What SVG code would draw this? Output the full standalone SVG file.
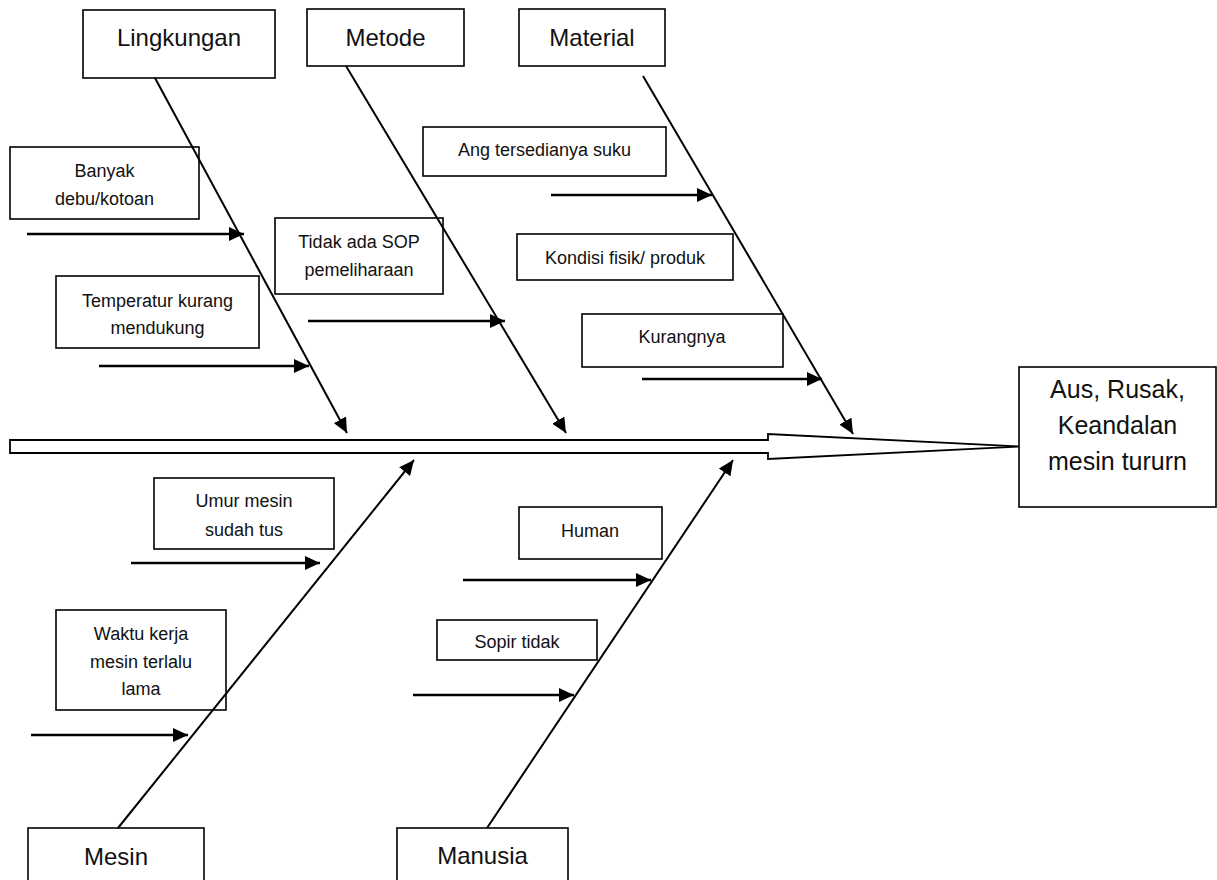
<svg xmlns="http://www.w3.org/2000/svg" width="1217" height="880" viewBox="0 0 1217 880">
<style>
  .box { fill: #ffffff; stroke: #000000; stroke-width: 1.6; }
  .t { font-family: "Liberation Sans", Arial, sans-serif; fill: #111111; text-anchor: middle; }
  .s { font-size: 18px; }
  .c { font-size: 24px; }
  .e { font-size: 25px; }
  .bone { stroke: #000000; stroke-width: 2; fill: none; }
  .arr { stroke: #000000; stroke-width: 2.4; fill: none; marker-end: url(#ah); }
  .spine { fill: #ffffff; stroke: #000000; stroke-width: 1.8; stroke-linejoin: miter; }
</style>
<defs>
  <marker id="ah" markerUnits="userSpaceOnUse" markerWidth="16" markerHeight="14" refX="15" refY="7" orient="auto">
    <path d="M0,0 L15,7 L0,14 z" fill="#000000"/>
  </marker>
</defs>
<rect width="1217" height="880" fill="#ffffff"/>

<g id="lingkungan"><rect class="box" x="83" y="10" width="192" height="68"/><text class="t c" x="179" y="46">Lingkungan</text></g>
<g id="metode"><rect class="box" x="307" y="9" width="157" height="57"/><text class="t c" x="385.5" y="46">Metode</text></g>
<g id="material"><rect class="box" x="519" y="9" width="146" height="57"/><text class="t c" x="592" y="46">Material</text></g>
<g id="mesin"><rect class="box" x="28" y="828" width="176" height="80"/><text class="t c" x="116" y="865">Mesin</text></g>
<g id="manusia"><rect class="box" x="397" y="828" width="171" height="80"/><text class="t c" x="482.5" y="864">Manusia</text></g>
<g id="effect"><rect class="box" x="1019" y="367" width="197" height="140"/><text class="t e" x="1117.5" y="398">Aus, Rusak,</text><text class="t e" x="1117.5" y="434">Keandalan</text><text class="t e" x="1117.5" y="470">mesin tururn</text></g>

<g id="banyak-debu"><rect class="box" x="10" y="147" width="189" height="72"/><text class="t s" x="104.5" y="177">Banyak</text><text class="t s" x="104.5" y="205">debu/kotoan</text></g>
<g id="temperatur"><rect class="box" x="56" y="276" width="203" height="72"/><text class="t s" x="157.5" y="307">Temperatur kurang</text><text class="t s" x="157.5" y="334">mendukung</text></g>
<g id="tidak-ada-sop"><rect class="box" x="275" y="218" width="168" height="76"/><text class="t s" x="359" y="248">Tidak ada SOP</text><text class="t s" x="359" y="276">pemeliharaan</text></g>
<g id="ang-tersedianya"><rect class="box" x="423" y="127" width="243" height="49"/><text class="t s" x="544.5" y="156">Ang tersedianya suku</text></g>
<g id="kondisi-fisik"><rect class="box" x="517" y="234" width="216" height="46"/><text class="t s" x="625" y="264">Kondisi fisik/ produk</text></g>
<g id="kurangnya"><rect class="box" x="582" y="314" width="201" height="53"/><text class="t s" x="682" y="343">Kurangnya</text></g>
<g id="umur-mesin"><rect class="box" x="154" y="478" width="180" height="71"/><text class="t s" x="244" y="507">Umur mesin</text><text class="t s" x="244" y="536">sudah tus</text></g>
<g id="waktu-kerja"><rect class="box" x="56" y="610" width="170" height="100"/><text class="t s" x="141" y="640">Waktu kerja</text><text class="t s" x="141" y="668">mesin terlalu</text><text class="t s" x="141" y="695">lama</text></g>
<g id="human"><rect class="box" x="519" y="507" width="143" height="52"/><text class="t s" x="590" y="537">Human</text></g>
<g id="sopir-tidak"><rect class="box" x="437" y="620" width="160" height="40"/><text class="t s" x="517" y="648">Sopir tidak</text></g>

<g id="connectors">
  <polygon class="spine" points="10,440 768,440 768,434 1019,446.5 768,459 768,453 10,453"/>
  <line class="bone" x1="155" y1="78" x2="347" y2="433" marker-end="url(#ah)"/>
  <line class="bone" x1="346" y1="66" x2="566" y2="433" marker-end="url(#ah)"/>
  <line class="bone" x1="643" y1="76" x2="853" y2="434" marker-end="url(#ah)"/>
  <line class="bone" x1="118" y1="828" x2="414" y2="460" marker-end="url(#ah)"/>
  <line class="bone" x1="487" y1="828" x2="733" y2="460" marker-end="url(#ah)"/>
  <line class="arr" x1="27" y1="234" x2="244" y2="234"/>
  <line class="arr" x1="99" y1="366" x2="309" y2="366"/>
  <line class="arr" x1="308" y1="321" x2="505" y2="321"/>
  <line class="arr" x1="551" y1="195" x2="712" y2="195"/>
  <line class="arr" x1="642" y1="379" x2="822" y2="379"/>
  <line class="arr" x1="131" y1="563" x2="320" y2="563"/>
  <line class="arr" x1="31" y1="735" x2="188" y2="735"/>
  <line class="arr" x1="463" y1="580" x2="651" y2="580"/>
  <line class="arr" x1="413" y1="695" x2="574" y2="695"/>
</g>
</svg>
